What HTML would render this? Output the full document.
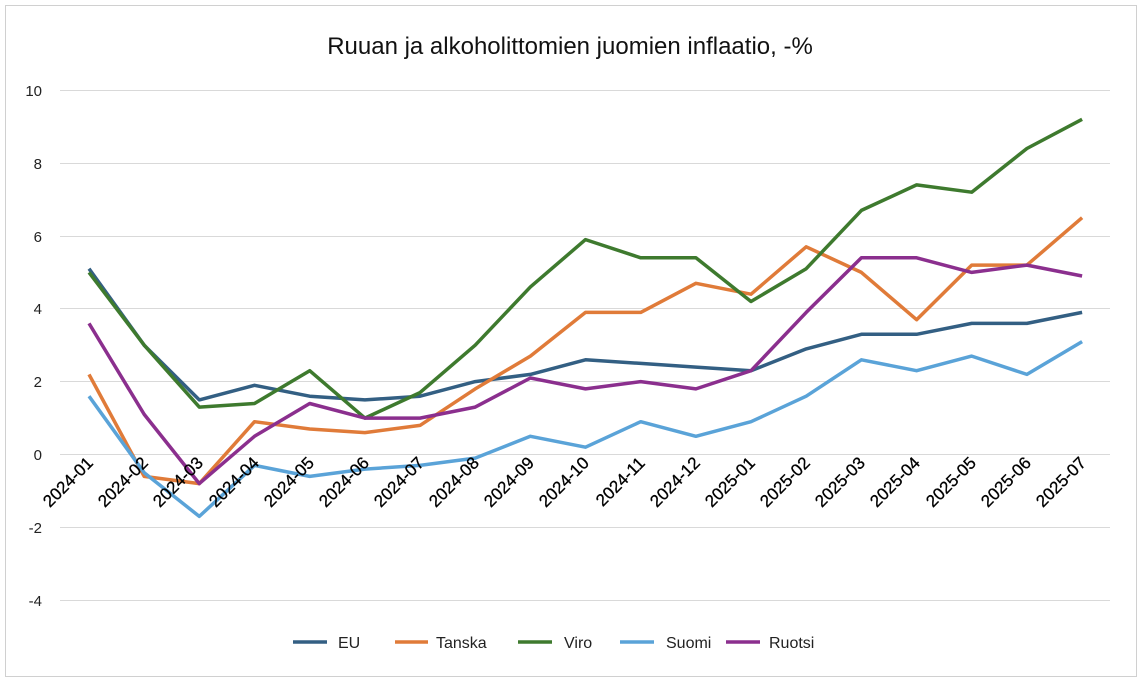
<!DOCTYPE html>
<html><head><meta charset="utf-8"><style>
html,body{margin:0;padding:0;background:#fff;}
svg{display:block;font-family:"Liberation Sans",sans-serif;}
</style></head><body>
<svg id="c" width="1142" height="682" viewBox="0 0 1142 682">
<rect x="5.5" y="5.5" width="1131" height="671" fill="#fff" stroke="#d0d0d0"/>
<text x="570" y="54" font-size="24" text-anchor="middle" fill="#111">Ruuan ja alkoholittomien juomien inflaatio, -%</text>
<g stroke="#d9d9d9" stroke-width="1">
<line x1="60" x2="1110" y1="90.5" y2="90.5"/>
<line x1="60" x2="1110" y1="163.5" y2="163.5"/>
<line x1="60" x2="1110" y1="236.5" y2="236.5"/>
<line x1="60" x2="1110" y1="308.5" y2="308.5"/>
<line x1="60" x2="1110" y1="381.5" y2="381.5"/>
<line x1="60" x2="1110" y1="454.5" y2="454.5"/>
<line x1="60" x2="1110" y1="527.5" y2="527.5"/>
<line x1="60" x2="1110" y1="600.5" y2="600.5"/>
</g>
<g font-size="15" fill="#222" text-anchor="end">
<text x="42" y="96">10</text>
<text x="42" y="169">8</text>
<text x="42" y="242">6</text>
<text x="42" y="314">4</text>
<text x="42" y="387">2</text>
<text x="42" y="460">0</text>
<text x="42" y="533">-2</text>
<text x="42" y="606">-4</text>
</g>
<g id="lines" fill="none" stroke-width="3.5" stroke-linejoin="round"></g>
<g font-size="17" fill="#000" text-anchor="end" stroke="#000" stroke-width="0.3">
<text transform="translate(94,464) rotate(-45)">2024-01</text>
<text transform="translate(149,464) rotate(-45)">2024-02</text>
<text transform="translate(204,464) rotate(-45)">2024-03</text>
<text transform="translate(260,464) rotate(-45)">2024-04</text>
<text transform="translate(315,464) rotate(-45)">2024-05</text>
<text transform="translate(370,464) rotate(-45)">2024-06</text>
<text transform="translate(425,464) rotate(-45)">2024-07</text>
<text transform="translate(480,464) rotate(-45)">2024-08</text>
<text transform="translate(535,464) rotate(-45)">2024-09</text>
<text transform="translate(590,464) rotate(-45)">2024-10</text>
<text transform="translate(646,464) rotate(-45)">2024-11</text>
<text transform="translate(701,464) rotate(-45)">2024-12</text>
<text transform="translate(756,464) rotate(-45)">2025-01</text>
<text transform="translate(811,464) rotate(-45)">2025-02</text>
<text transform="translate(866,464) rotate(-45)">2025-03</text>
<text transform="translate(921,464) rotate(-45)">2025-04</text>
<text transform="translate(977,464) rotate(-45)">2025-05</text>
<text transform="translate(1032,464) rotate(-45)">2025-06</text>
<text transform="translate(1087,464) rotate(-45)">2025-07</text>
</g>
<g stroke-width="3.5">
<line x1="293" x2="327" y1="642" y2="642" stroke="#335f83"/>
<line x1="395" x2="428" y1="642" y2="642" stroke="#e07b39"/>
<line x1="518" x2="552" y1="642" y2="642" stroke="#3e7a2e"/>
<line x1="620" x2="654" y1="642" y2="642" stroke="#5aa3d8"/>
<line x1="726" x2="760" y1="642" y2="642" stroke="#8b2f8e"/>
</g>
<g font-size="16" fill="#222">
<text x="338" y="648">EU</text>
<text x="436" y="648">Tanska</text>
<text x="564" y="648">Viro</text>
<text x="666" y="648">Suomi</text>
<text x="769" y="648">Ruotsi</text>
</g>
</svg>
<script>
var S=[
["#335f83",[5.1,3.0,1.5,1.9,1.6,1.5,1.6,2.0,2.2,2.6,2.5,2.4,2.3,2.9,3.3,3.3,3.6,3.6,3.9]],
["#e07b39",[2.2,-0.6,-0.8,0.9,0.7,0.6,0.8,1.8,2.7,3.9,3.9,4.7,4.4,5.7,5.0,3.7,5.2,5.2,6.5]],
["#3e7a2e",[5.0,3.0,1.3,1.4,2.3,1.0,1.7,3.0,4.6,5.9,5.4,5.4,4.2,5.1,6.7,7.4,7.2,8.4,9.2]],
["#5aa3d8",[1.6,-0.5,-1.7,-0.3,-0.6,-0.4,-0.3,-0.1,0.5,0.2,0.9,0.5,0.9,1.6,2.6,2.3,2.7,2.2,3.1]],
["#8b2f8e",[3.6,1.1,-0.8,0.5,1.4,1.0,1.0,1.3,2.1,1.8,2.0,1.8,2.3,3.9,5.4,5.4,5.0,5.2,4.9]]];
var g=document.getElementById('lines'),ns="http://www.w3.org/2000/svg";
S.forEach(function(s){var p=document.createElementNS(ns,'polyline');
p.setAttribute('points',s[1].map(function(v,i){return (89+55.17*i).toFixed(1)+','+(454.5-36.43*v).toFixed(1)}).join(' '));
p.setAttribute('stroke',s[0]);g.appendChild(p);});
</script>
</body></html>
